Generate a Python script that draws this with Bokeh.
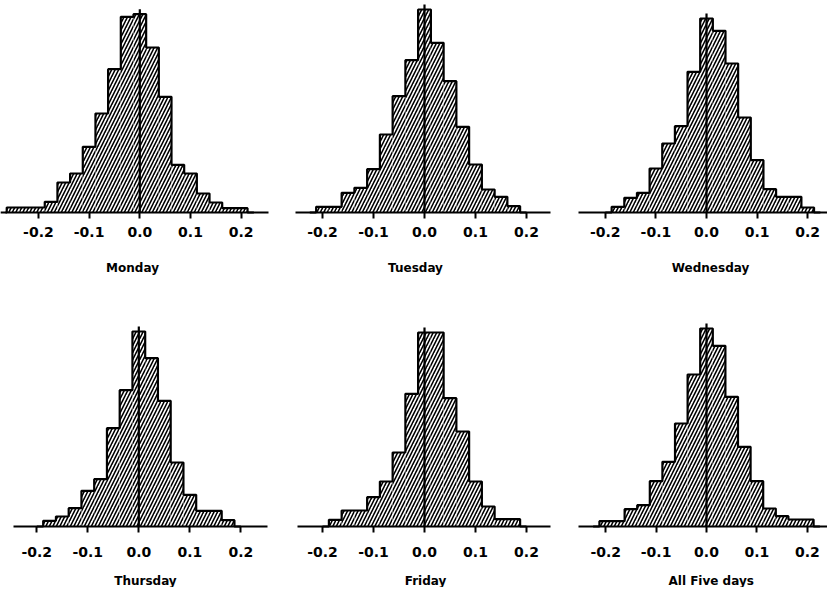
from bokeh.plotting import figure
from bokeh.layouts import column, row
from bokeh.models import Range1d, FixedTicker, Label, LinearAxis
from bokeh.embed import file_html
from bokeh.resources import INLINE

# ---------------- data ----------------
bin_width = 0.025
tick_values = [-0.2, -0.1, 0.0, 0.1, 0.2]
tick_labels = ["-0.2", "-0.1", "0.0", "0.1", "0.2"]

monday_centers = [-0.25, -0.225, -0.2, -0.175, -0.15, -0.125, -0.1, -0.075, -0.05, -0.025,
                  0.0, 0.025, 0.05, 0.075, 0.1, 0.125, 0.15, 0.175, 0.2]
monday_freq = [5, 5, 5, 10.7, 30, 39, 65.7, 99, 143.3, 195.7,
               198.3, 165, 115.7, 47.7, 39, 19, 10, 4.3, 4.3]

tuesday_centers = [-0.2, -0.175, -0.15, -0.125, -0.1, -0.075, -0.05, -0.025,
                   0.0, 0.025, 0.05, 0.075, 0.1, 0.125, 0.15, 0.175]
tuesday_freq = [5.7, 5.7, 19.7, 24.7, 43.3, 78, 116.3, 152.3,
                203, 169.7, 131.3, 85.7, 48, 23, 15.7, 6.3]

wednesday_centers = [-0.175, -0.15, -0.125, -0.1, -0.075, -0.05, -0.025,
                     0.0, 0.025, 0.05, 0.075, 0.1, 0.125, 0.15, 0.175, 0.2]
wednesday_freq = [5.7, 14.7, 19.7, 44, 69, 86.3, 140.7,
                  194, 181.7, 149, 95, 52.3, 23.3, 15.7, 15.7, 5]

thursday_centers = [-0.175, -0.15, -0.125, -0.1, -0.075, -0.05, -0.025,
                    0.0, 0.025, 0.05, 0.075, 0.1, 0.125, 0.15, 0.175]
thursday_freq = [5.7, 10, 18.3, 35.7, 47.3, 98.3, 136.3,
                 195, 168.3, 125.7, 64, 31.7, 15.7, 15.7, 6.3]

friday_centers = [-0.175, -0.15, -0.125, -0.1, -0.075, -0.05, -0.025,
                  0.0, 0.025, 0.05, 0.075, 0.1, 0.125, 0.15, 0.175]
friday_freq = [6.7, 16, 16, 29.3, 45, 74, 132.7,
               194, 194, 128.3, 95, 45, 20, 7.3, 7.3]

all_centers = [-0.2, -0.175, -0.15, -0.125, -0.1, -0.075, -0.05, -0.025,
               0.0, 0.025, 0.05, 0.075, 0.1, 0.125, 0.15, 0.175, 0.2]
all_freq = [5.3, 5.3, 17.3, 21.3, 45.3, 64.7, 103, 152,
            198, 180.7, 129.7, 79.7, 45.3, 18, 10.3, 7, 7]

titles = ["Monday", "Tuesday", "Wednesday", "Thursday", "Friday", "All Five days"]

FONT = "DejaVu Sans"


def make_panel(name, centers, freq, xr, bounds, width, yr, label_standoff, title_pos):
    height = int(round(yr[1] - yr[0]))
    p = figure(width=width, height=height, x_range=Range1d(*xr), y_range=Range1d(*yr),
               output_backend="svg", toolbar_location=None,
               x_axis_location=None, y_axis_location=None,
               min_border_left=0, min_border_right=0, min_border_top=0,
               min_border_bottom=0)
    p.grid.visible = False
    p.outline_line_color = None
    p.background_fill_color = "white"
    p.border_fill_color = "white"

    p.vbar(x=centers, width=bin_width, top=freq, bottom=0,
           fill_color="white", line_color=None,
           hatch_pattern="/", hatch_color="black", hatch_scale=7, hatch_weight=1.6)

    xs = [centers[0] - bin_width] + list(centers) + [centers[-1] + bin_width]
    ys = [0] + list(freq) + [0]
    p.step(xs, ys, mode="center", line_color="black", line_width=2.2)

    p.segment(x0=[0], y0=[0], x1=[0], y1=[max(freq) + 5],
              line_color="black", line_width=2.2)

    ax = LinearAxis(fixed_location=0, bounds=bounds)
    ax.ticker = FixedTicker(ticks=tick_values)
    ax.major_label_overrides = {v: s for v, s in zip(tick_values, tick_labels)}
    ax.axis_line_width = 2.2
    ax.axis_line_color = "black"
    ax.major_tick_line_width = 2
    ax.major_tick_line_color = "black"
    ax.major_tick_in = 0
    ax.major_tick_out = 6
    ax.minor_tick_line_color = None
    ax.major_label_standoff = label_standoff
    ax.major_label_text_font = FONT
    ax.major_label_text_font_size = "14px"
    ax.major_label_text_font_style = "bold"
    ax.major_label_text_color = "black"
    p.add_layout(ax, "below")

    tx, ty = title_pos
    p.add_layout(Label(x=tx, y=ty, x_units="data", y_units="data", text=name,
                       text_align="center", text_baseline="middle",
                       text_font=FONT, text_font_size="12px",
                       text_font_style="bold", text_color="black"))
    return p


top_y = (-78, 212)
bot_y = (-61, 236)
p1 = make_panel(titles[0], monday_centers, monday_freq, (-0.2748, 0.2775),
                (-0.2649, 0.2538), 280, top_y, 8, (-0.0144, -55))
p2 = make_panel(titles[1], tuesday_centers, tuesday_freq, (-0.2824, 0.2765),
                (-0.2529, 0.2471), 285, top_y, 8, (-0.0176, -55))
p3 = make_panel(titles[2], wednesday_centers, wednesday_freq, (-0.2787, 0.2391),
                (-0.253, 0.2391), 262, top_y, 8, (0.0079, -55))
p4 = make_panel(titles[3], thursday_centers, thursday_freq, (-0.2712, 0.2778),
                (-0.2457, 0.2524), 280, bot_y, 14, (0.013, -54))
p5 = make_panel(titles[4], friday_centers, friday_freq, (-0.2824, 0.2765),
                (-0.249, 0.247), 285, bot_y, 14, (0.002, -54))
p6 = make_panel(titles[5], all_centers, all_freq, (-0.2798, 0.2401),
                (-0.254, 0.2401), 262, bot_y, 14, (0.0093, -54))

layout = column(row(p1, p2, p3, spacing=0), row(p4, p5, p6, spacing=0), spacing=0)

open("out.html", "w").write(file_html(layout, INLINE))
